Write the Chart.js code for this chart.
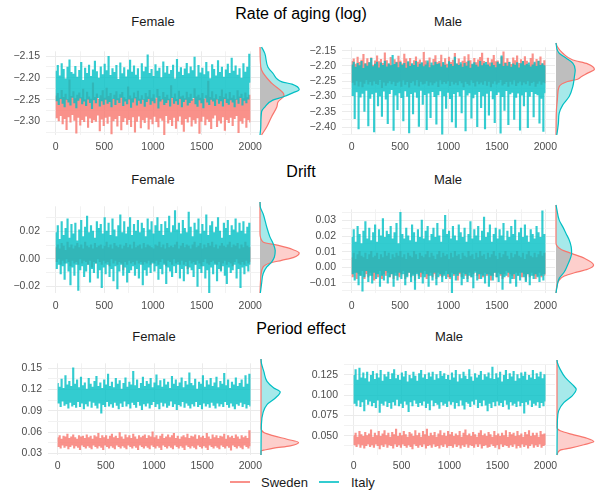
<!DOCTYPE html>
<html>
<head>
<meta charset="utf-8">
<script src="https://cdn.jsdelivr.net/npm/chart.js@4.4.0/dist/chart.umd.min.js"></script>
<style>
  body { margin: 0; background: #fff; }
  #wrap { position: relative; width: 597px; height: 491px; overflow: hidden; font-family: "Liberation Sans", Arial, sans-serif; }
  #wrap canvas { position: absolute; }
  .title { position: absolute; transform: translate(-50%, -50%); font-size: 16px; line-height: 16px; color: #000; white-space: nowrap; }
  .strip { position: absolute; transform: translate(-50%, -50%); font-size: 13px; line-height: 13px; color: #1A1A1A; white-space: nowrap; }
  .key { position: absolute; width: 20px; height: 1.5px; }
  .leg { position: absolute; transform: translateY(-50%); font-size: 13px; line-height: 13px; color: #1A1A1A; white-space: nowrap; }
</style>
</head>
<body>
<div id="wrap">
  <div class="title" style="left:301px;top:14px">Rate of aging (log)</div>
  <div class="title" style="left:301px;top:172px">Drift</div>
  <div class="title" style="left:301px;top:329px">Period effect</div>
  <div class="strip" style="left:153px;top:21px">Female</div>
  <div class="strip" style="left:448px;top:21px">Male</div>
  <div class="strip" style="left:153px;top:179px">Female</div>
  <div class="strip" style="left:448px;top:179px">Male</div>
  <div class="strip" style="left:154px;top:336px">Female</div>
  <div class="strip" style="left:449px;top:336px">Male</div>
  <div class="key" style="left:230px;top:481px;background:rgba(248,118,109,0.8)"></div>
  <div class="leg" style="left:261px;top:482px">Sweden</div>
  <div class="key" style="left:319px;top:481px;background:rgba(0,191,196,0.8)"></div>
  <div class="leg" style="left:351px;top:482px">Italy</div>
</div>
<script>
// x axis of every trace panel
const xTicks = [0, 500, 1000, 1500, 2000];
const xMinorTicks = [250, 750, 1250, 1750];

// y ticks per panel
const agingFemaleTicks = [-2.30, -2.25, -2.20, -2.15];
const agingFemaleMinor = [-2.325, -2.275, -2.225, -2.175];
const agingMaleTicks = [-2.40, -2.35, -2.30, -2.25, -2.20, -2.15];
const agingMaleMinor = [-2.425, -2.375, -2.325, -2.275, -2.225, -2.175];
const driftFemaleTicks = [-0.02, 0, 0.02];
const driftFemaleMinor = [-0.01, 0.01, 0.03];
const driftMaleTicks = [-0.01, 0, 0.01, 0.02, 0.03];
const driftMaleMinor = [-0.015, -0.005, 0.005, 0.015, 0.025, 0.035];
const periodFemaleTicks = [0.03, 0.06, 0.09, 0.12, 0.15];
const periodFemaleMinor = [0.045, 0.075, 0.105, 0.135];
const periodMaleTicks = [0.05, 0.075, 0.1, 0.125];
const periodMaleMinor = [0.0375, 0.0625, 0.0875, 0.1125, 0.1375];

// traces (thinned draws)
const agingFemaleItaly = [
  -2.185,-2.252,-2.172,-2.261,-2.196,-2.247,-2.168,-2.258,-2.181,-2.266,
  -2.203,-2.249,-2.176,-2.255,-2.159,-2.262,-2.188,-2.244,-2.192,-2.257,
  -2.174,-2.268,-2.199,-2.251,-2.183,-2.246,-2.165,-2.259,-2.206,-2.253,
  -2.178,-2.263,-2.19,-2.248,-2.171,-2.256,-2.197,-2.27,-2.182,-2.25,
  -2.162,-2.257,-2.186,-2.245,-2.201,-2.264,-2.175,-2.252,-2.193,-2.26,
  -2.169,-2.249,-2.184,-2.258,-2.151,-2.254,-2.195,-2.266,-2.179,-2.247,
  -2.188,-2.261,-2.172,-2.25,-2.204,-2.256,-2.166,-2.244,-2.191,-2.263,
  -2.177,-2.253,-2.198,-2.259,-2.182,-2.248,-2.16,-2.267,-2.187,-2.255,
  -2.173,-2.246,-2.194,-2.262,-2.179,-2.251,-2.205,-2.258,-2.168,-2.249,
  -2.186,-2.265,-2.176,-2.254,-2.148,-2.247,-2.19,-2.26,-2.181,-2.252,
  -2.197,-2.257,-2.17,-2.244,-2.185,-2.269,-2.178,-2.253,-2.2,-2.248,
  -2.164,-2.261,-2.189,-2.256,-2.174,-2.25,-2.192,-2.264,-2.183,-2.245,
  -2.171,-2.258,-2.203,-2.252,-2.158,-2.26,-2.187,-2.247,-2.177,-2.266,
  -2.195,-2.254,-2.18,-2.249,-2.167,-2.262,-2.191,-2.256,-2.175,-2.251,
  -2.184,-2.245,-2.153,-2.259,-2.198,-2.265,-2.172,-2.25,-2.189,-2.257,
  -2.178,-2.268,-2.193,-2.246,-2.165,-2.255,-2.186,-2.261,-2.202,-2.249,
  -2.17,-2.253,-2.181,-2.263,-2.196,-2.248,-2.161,-2.258,-2.188,-2.252,
  -2.176,-2.264,-2.199,-2.247,-2.182,-2.256,-2.169,-2.26,-2.19,-2.25,
  -2.155,-2.255,-2.185,-2.266,-2.173,-2.249,-2.194,-2.258,-2.179,-2.245,
  -2.201,-2.262,-2.168,-2.251,-2.187,-2.257,-2.176,-2.248,-2.146,-2.21
];
const agingFemaleSweden = [
  -2.242,-2.291,-2.236,-2.298,-2.247,-2.286,-2.229,-2.305,-2.245,-2.293,
  -2.238,-2.318,-2.25,-2.289,-2.205,-2.301,-2.243,-2.284,-2.232,-2.297,
  -2.248,-2.326,-2.24,-2.29,-2.235,-2.308,-2.246,-2.295,-2.226,-2.3,
  -2.251,-2.287,-2.233,-2.313,-2.244,-2.292,-2.249,-2.302,-2.212,-2.296,
  -2.245,-2.299,-2.237,-2.285,-2.25,-2.321,-2.241,-2.294,-2.23,-2.309,
  -2.247,-2.29,-2.224,-2.304,-2.243,-2.288,-2.236,-2.328,-2.249,-2.298,
  -2.24,-2.293,-2.232,-2.31,-2.248,-2.286,-2.239,-2.319,-2.234,-2.3,
  -2.246,-2.291,-2.25,-2.306,-2.221,-2.295,-2.242,-2.311,-2.248,-2.289,
  -2.235,-2.324,-2.245,-2.299,-2.231,-2.287,-2.249,-2.314,-2.241,-2.296,
  -2.25,-2.302,-2.236,-2.29,-2.244,-2.317,-2.229,-2.294,-2.247,-2.305,
  -2.239,-2.288,-2.248,-2.3,-2.227,-2.312,-2.243,-2.292,-2.25,-2.297,
  -2.234,-2.33,-2.245,-2.286,-2.24,-2.303,-2.249,-2.295,-2.218,-2.309,
  -2.246,-2.29,-2.237,-2.315,-2.25,-2.298,-2.231,-2.287,-2.244,-2.306,
  -2.242,-2.322,-2.248,-2.293,-2.233,-2.301,-2.246,-2.289,-2.238,-2.31,
  -2.25,-2.296,-2.225,-2.304,-2.244,-2.291,-2.24,-2.327,-2.247,-2.299,
  -2.236,-2.288,-2.249,-2.307,-2.241,-2.294,-2.208,-2.3,-2.245,-2.316,
  -2.232,-2.292,-2.248,-2.285,-2.239,-2.311,-2.25,-2.297,-2.243,-2.303,
  -2.228,-2.289,-2.246,-2.32,-2.237,-2.295,-2.249,-2.302,-2.234,-2.29,
  -2.247,-2.309,-2.241,-2.293,-2.25,-2.286,-2.23,-2.325,-2.244,-2.298,
  -2.238,-2.304,-2.248,-2.291,-2.235,-2.313,-2.246,-2.296,-2.24,-2.301
];
const agingMaleItaly = [
  -2.197,-2.296,-2.188,-2.372,-2.205,-2.284,-2.192,-2.405,-2.2,-2.301,
  -2.186,-2.289,-2.209,-2.348,-2.194,-2.279,-2.201,-2.395,-2.19,-2.305,
  -2.176,-2.291,-2.203,-2.415,-2.195,-2.286,-2.188,-2.33,-2.207,-2.298,
  -2.191,-2.364,-2.199,-2.282,-2.185,-2.308,-2.204,-2.388,-2.193,-2.29,
  -2.2,-2.277,-2.166,-2.41,-2.196,-2.295,-2.19,-2.342,-2.206,-2.287,
  -2.189,-2.303,-2.198,-2.379,-2.192,-2.281,-2.208,-2.299,-2.187,-2.418,
  -2.202,-2.29,-2.193,-2.356,-2.199,-2.285,-2.186,-2.302,-2.205,-2.397,
  -2.195,-2.279,-2.19,-2.325,-2.203,-2.293,-2.197,-2.408,-2.184,-2.288,
  -2.206,-2.368,-2.191,-2.283,-2.2,-2.3,-2.188,-2.39,-2.196,-2.294,
  -2.193,-2.281,-2.204,-2.422,-2.189,-2.297,-2.198,-2.338,-2.207,-2.286,
  -2.187,-2.306,-2.196,-2.382,-2.202,-2.29,-2.172,-2.4,-2.194,-2.284,
  -2.199,-2.298,-2.19,-2.353,-2.205,-2.278,-2.192,-2.412,-2.201,-2.295,
  -2.185,-2.287,-2.208,-2.37,-2.195,-2.304,-2.19,-2.292,-2.198,-2.398,
  -2.204,-2.283,-2.186,-2.336,-2.2,-2.297,-2.193,-2.405,-2.189,-2.289,
  -2.197,-2.36,-2.203,-2.281,-2.191,-2.307,-2.199,-2.385,-2.206,-2.293,
  -2.188,-2.285,-2.195,-2.419,-2.168,-2.3,-2.202,-2.345,-2.192,-2.28,
  -2.201,-2.391,-2.189,-2.291,-2.205,-2.286,-2.194,-2.374,-2.198,-2.302,
  -2.19,-2.288,-2.207,-2.409,-2.193,-2.295,-2.186,-2.33,-2.2,-2.284,
  -2.196,-2.401,-2.191,-2.299,-2.204,-2.283,-2.197,-2.366,-2.188,-2.29,
  -2.202,-2.294,-2.185,-2.386,-2.199,-2.305,-2.193,-2.413,-2.2,-2.287
];
const agingMaleSweden = [
  -2.186,-2.253,-2.178,-2.261,-2.195,-2.247,-2.172,-2.265,-2.189,-2.25,
  -2.182,-2.268,-2.163,-2.256,-2.193,-2.245,-2.177,-2.259,-2.19,-2.251,
  -2.174,-2.262,-2.198,-2.248,-2.184,-2.257,-2.168,-2.26,-2.187,-2.244,
  -2.179,-2.27,-2.192,-2.252,-2.158,-2.263,-2.183,-2.255,-2.196,-2.247,
  -2.173,-2.258,-2.199,-2.25,-2.18,-2.264,-2.188,-2.253,-2.169,-2.249,
  -2.185,-2.266,-2.194,-2.246,-2.162,-2.26,-2.178,-2.251,-2.19,-2.269,
  -2.176,-2.254,-2.197,-2.248,-2.183,-2.262,-2.171,-2.245,-2.188,-2.265,
  -2.181,-2.25,-2.192,-2.259,-2.156,-2.256,-2.184,-2.247,-2.191,-2.263,
  -2.174,-2.252,-2.2,-2.261,-2.179,-2.255,-2.167,-2.249,-2.19,-2.267,
  -2.186,-2.246,-2.165,-2.258,-2.193,-2.251,-2.177,-2.256,-2.195,-2.248,
  -2.172,-2.264,-2.189,-2.25,-2.182,-2.259,-2.16,-2.253,-2.194,-2.261,
  -2.178,-2.247,-2.196,-2.255,-2.185,-2.268,-2.17,-2.25,-2.188,-2.257,
  -2.164,-2.262,-2.183,-2.246,-2.197,-2.254,-2.176,-2.265,-2.19,-2.249,
  -2.181,-2.258,-2.173,-2.252,-2.159,-2.26,-2.186,-2.247,-2.198,-2.263,
  -2.175,-2.25,-2.191,-2.268,-2.18,-2.256,-2.166,-2.248,-2.187,-2.259,
  -2.184,-2.253,-2.195,-2.245,-2.172,-2.262,-2.155,-2.257,-2.19,-2.251,
  -2.177,-2.266,-2.188,-2.25,-2.196,-2.259,-2.174,-2.246,-2.183,-2.264,
  -2.168,-2.255,-2.192,-2.249,-2.18,-2.261,-2.187,-2.252,-2.17,-2.258,
  -2.185,-2.247,-2.199,-2.263,-2.176,-2.254,-2.161,-2.25,-2.193,-2.266,
  -2.179,-2.256,-2.186,-2.248,-2.171,-2.26,-2.194,-2.252,-2.183,-2.255
];
const driftFemaleItaly = [
  0.019,-0.007,0.024,-0.004,0.014,-0.011,0.027,-0.005,0.017,-0.015,
  0.022,-0.003,0.029,-0.009,0.015,-0.019,0.025,-0.006,0.018,-0.012,
  0.026,-0.004,0.013,-0.023,0.021,-0.008,0.028,-0.005,0.016,-0.013,
  0.023,-0.009,0.031,-0.004,0.019,-0.017,0.024,-0.007,0.02,-0.01,
  0.015,-0.003,0.027,-0.014,0.022,-0.008,0.025,-0.021,0.018,-0.006,
  0.03,-0.011,0.02,-0.004,0.026,-0.013,0.017,-0.007,0.029,-0.016,
  0.021,-0.005,0.016,-0.022,0.024,-0.009,0.032,-0.004,0.019,-0.012,
  0.027,-0.006,0.018,-0.017,0.023,-0.01,0.03,-0.008,0.017,-0.005,
  0.025,-0.012,0.02,-0.007,0.028,-0.014,0.019,-0.004,0.026,-0.019,
  0.022,-0.008,0.016,-0.012,0.029,-0.006,0.021,-0.01,0.027,-0.003,
  0.018,-0.009,0.024,-0.005,0.03,-0.015,0.02,-0.007,0.025,-0.011,
  0.017,-0.004,0.027,-0.018,0.022,-0.006,0.031,-0.009,0.019,-0.013,
  0.024,-0.005,0.035,-0.01,0.021,-0.004,0.026,-0.014,0.018,-0.007,
  0.028,-0.016,0.022,-0.005,0.019,-0.011,0.034,-0.006,0.023,-0.008,
  0.016,-0.013,0.026,-0.004,0.021,-0.02,0.029,-0.007,0.018,-0.01,
  0.025,-0.005,0.02,-0.014,0.032,-0.008,0.017,-0.025,0.024,-0.006,
  0.027,-0.011,0.019,-0.004,0.023,-0.016,0.03,-0.007,0.02,-0.009,
  0.015,-0.005,0.026,-0.012,0.022,-0.018,0.028,-0.006,0.017,-0.01,
  0.024,-0.008,0.021,-0.004,0.029,-0.014,0.019,-0.007,0.026,-0.021,
  0.02,-0.006,0.027,-0.011,0.018,-0.005,0.023,-0.009,0.026,-0.004
];
const driftFemaleSweden = [
  0.008,-0.002,0.01,0.0,0.007,-0.004,0.011,-0.001,0.009,-0.003,
  0.006,0.0,0.012,-0.002,0.008,-0.005,0.01,-0.001,0.007,-0.003,
  0.009,-0.002,0.011,-0.004,0.008,0.0,0.01,-0.003,0.007,-0.001,
  0.012,-0.002,0.009,-0.004,0.008,-0.001,0.01,-0.006,0.007,-0.002,
  0.011,-0.003,0.008,0.0,0.009,-0.002,0.01,-0.004,0.007,-0.001,
  0.009,-0.003,0.012,-0.002,0.008,-0.005,0.01,0.0,0.007,-0.003,
  0.011,-0.001,0.009,-0.004,0.008,-0.002,0.01,-0.003,0.007,-0.008,
  0.009,-0.002,0.011,-0.004,0.008,-0.001,0.01,-0.003,0.007,-0.002,
  0.012,-0.004,0.008,-0.001,0.009,-0.003,0.01,-0.002,0.007,-0.004,
  0.011,-0.002,0.008,-0.003,0.01,-0.001,0.009,-0.004,0.008,-0.002,
  0.007,-0.003,0.01,-0.001,0.009,-0.004,0.012,-0.002,0.008,0.0,
  0.01,-0.003,0.007,-0.005,0.011,-0.001,0.008,-0.002,0.009,-0.004,
  0.008,0.0,0.01,-0.003,0.012,-0.002,0.007,-0.004,0.009,-0.001,
  0.011,-0.004,0.008,-0.002,0.01,-0.007,0.009,-0.001,0.007,-0.003,
  0.01,-0.002,0.012,-0.004,0.008,-0.001,0.009,-0.003,0.011,-0.005,
  0.007,-0.002,0.01,0.0,0.008,-0.003,0.011,-0.004,0.009,-0.002,
  0.012,-0.001,0.008,-0.003,0.01,-0.004,0.007,-0.002,0.009,-0.008,
  0.011,-0.003,0.009,-0.001,0.008,-0.004,0.01,-0.002,0.012,-0.003,
  0.008,-0.005,0.01,-0.002,0.009,0.0,0.011,-0.003,0.007,-0.004,
  0.01,-0.002,0.008,-0.004,0.012,-0.001,0.009,-0.003,0.008,-0.002
];
const driftMaleItaly = [
  0.019,-0.004,0.024,-0.008,0.016,-0.003,0.026,-0.011,0.021,-0.005,
  0.015,-0.015,0.023,-0.006,0.029,-0.002,0.018,-0.009,0.025,-0.005,
  0.017,-0.01,0.022,-0.003,0.027,-0.007,0.016,-0.004,0.024,-0.012,
  0.02,-0.005,0.031,-0.008,0.019,-0.002,0.023,-0.01,0.021,-0.006,
  0.026,-0.004,0.018,-0.012,0.022,-0.005,0.028,-0.008,0.015,-0.003,
  0.035,-0.007,0.021,-0.004,0.018,-0.011,0.025,-0.006,0.02,-0.003,
  0.017,-0.009,0.027,-0.005,0.022,-0.014,0.016,-0.004,0.024,-0.007,
  0.019,-0.003,0.03,-0.01,0.018,-0.006,0.023,-0.004,0.026,-0.012,
  0.017,-0.005,0.021,-0.008,0.025,-0.003,0.019,-0.011,0.028,-0.006,
  0.02,-0.004,0.016,-0.009,0.024,-0.005,0.033,-0.007,0.021,-0.004,
  0.023,-0.006,0.018,-0.016,0.026,-0.004,0.02,-0.008,0.017,-0.005,
  0.027,-0.003,0.022,-0.011,0.019,-0.007,0.025,-0.004,0.016,-0.009,
  0.021,-0.005,0.029,-0.006,0.018,-0.013,0.024,-0.003,0.02,-0.008,
  0.026,-0.004,0.017,-0.007,0.023,-0.005,0.032,-0.01,0.019,-0.004,
  0.022,-0.012,0.027,-0.005,0.016,-0.008,0.021,-0.003,0.025,-0.006,
  0.018,-0.009,0.024,-0.004,0.02,-0.014,0.028,-0.006,0.017,-0.005,
  0.023,-0.003,0.019,-0.01,0.026,-0.007,0.021,-0.004,0.03,-0.012,
  0.017,-0.005,0.022,-0.008,0.025,-0.003,0.019,-0.006,0.027,-0.009,
  0.02,-0.004,0.016,-0.011,0.024,-0.005,0.021,-0.007,0.018,-0.004,
  0.026,-0.006,0.022,-0.009,0.019,-0.005,0.036,-0.008,0.021,-0.004
];
const driftMaleSweden = [
  0.006,-0.006,0.009,-0.003,0.005,-0.007,0.008,-0.004,0.01,-0.005,
  0.007,-0.002,0.006,-0.007,0.009,-0.004,0.005,-0.006,0.008,-0.003,
  0.01,-0.005,0.006,-0.008,0.007,-0.004,0.009,-0.006,0.005,-0.002,
  0.008,-0.007,0.006,-0.004,0.01,-0.005,0.007,-0.003,0.009,-0.006,
  0.005,-0.004,0.008,-0.007,0.006,-0.003,0.009,-0.005,0.007,-0.006,
  0.01,-0.004,0.006,-0.002,0.008,-0.007,0.005,-0.005,0.009,-0.003,
  0.007,-0.006,0.006,-0.004,0.01,-0.008,0.008,-0.003,0.005,-0.005,
  0.009,-0.006,0.007,-0.004,0.006,-0.002,0.008,-0.007,0.01,-0.005,
  0.006,-0.003,0.009,-0.006,0.007,-0.004,0.005,-0.007,0.008,-0.003,
  0.01,-0.005,0.006,-0.006,0.009,-0.004,0.007,-0.002,0.008,-0.006,
  0.005,-0.007,0.009,-0.003,0.006,-0.005,0.01,-0.004,0.007,-0.008,
  0.008,-0.004,0.005,-0.006,0.009,-0.003,0.007,-0.005,0.006,-0.007,
  0.01,-0.003,0.007,-0.006,0.008,-0.004,0.005,-0.002,0.009,-0.005,
  0.006,-0.007,0.01,-0.004,0.007,-0.006,0.008,-0.003,0.005,-0.005,
  0.009,-0.004,0.006,-0.008,0.008,-0.005,0.01,-0.003,0.007,-0.006,
  0.005,-0.003,0.009,-0.005,0.006,-0.007,0.008,-0.004,0.01,-0.002,
  0.007,-0.006,0.005,-0.004,0.009,-0.005,0.006,-0.007,0.008,-0.003,
  0.01,-0.005,0.007,-0.003,0.006,-0.006,0.009,-0.004,0.005,-0.008,
  0.008,-0.004,0.01,-0.006,0.007,-0.003,0.006,-0.005,0.009,-0.007,
  0.006,-0.005,0.008,-0.003,0.01,-0.006,0.007,-0.004,0.009,-0.005
];
const periodFemaleItaly = [
  0.128,0.101,0.123,0.096,0.134,0.104,0.121,0.098,0.139,0.1,
  0.126,0.094,0.131,0.102,0.124,0.097,0.15,0.099,0.127,0.095,
  0.133,0.103,0.122,0.096,0.137,0.101,0.125,0.093,0.129,0.1,
  0.12,0.097,0.135,0.104,0.127,0.095,0.123,0.102,0.131,0.098,
  0.138,0.094,0.124,0.101,0.129,0.087,0.121,0.099,0.133,0.096,
  0.126,0.103,0.141,0.097,0.124,0.1,0.13,0.095,0.122,0.102,
  0.135,0.098,0.127,0.093,0.132,0.101,0.12,0.096,0.128,0.104,
  0.136,0.097,0.123,0.1,0.13,0.094,0.126,0.102,0.145,0.099,
  0.125,0.095,0.133,0.103,0.121,0.098,0.128,0.092,0.137,0.1,
  0.124,0.097,0.131,0.101,0.127,0.094,0.135,0.099,0.122,0.103,
  0.129,0.096,0.14,0.1,0.125,0.093,0.132,0.102,0.123,0.097,
  0.134,0.101,0.126,0.095,0.13,0.098,0.121,0.104,0.138,0.096,
  0.127,0.1,0.133,0.092,0.124,0.099,0.129,0.097,0.136,0.103,
  0.122,0.095,0.131,0.101,0.126,0.098,0.143,0.094,0.128,0.1,
  0.125,0.097,0.134,0.103,0.12,0.096,0.13,0.099,0.127,0.093,
  0.139,0.101,0.123,0.097,0.132,0.1,0.126,0.095,0.135,0.102,
  0.124,0.098,0.129,0.094,0.137,0.101,0.122,0.097,0.131,0.1,
  0.127,0.096,0.142,0.103,0.125,0.099,0.133,0.095,0.121,0.101,
  0.13,0.097,0.126,0.093,0.136,0.1,0.124,0.098,0.128,0.102,
  0.133,0.096,0.123,0.1,0.139,0.094,0.127,0.099,0.141,0.097
];
const periodFemaleSweden = [
  0.052,0.04,0.055,0.038,0.05,0.042,0.054,0.039,0.053,0.041,
  0.057,0.037,0.051,0.04,0.053,0.042,0.056,0.038,0.052,0.041,
  0.05,0.039,0.055,0.036,0.053,0.042,0.054,0.04,0.051,0.038,
  0.056,0.041,0.052,0.039,0.054,0.037,0.05,0.042,0.055,0.04,
  0.053,0.038,0.058,0.041,0.051,0.039,0.055,0.036,0.052,0.042,
  0.055,0.04,0.05,0.038,0.054,0.041,0.057,0.039,0.052,0.037,
  0.054,0.042,0.051,0.04,0.059,0.038,0.053,0.041,0.05,0.039,
  0.056,0.037,0.052,0.042,0.055,0.04,0.051,0.038,0.057,0.041,
  0.053,0.039,0.05,0.036,0.055,0.042,0.052,0.04,0.054,0.038,
  0.056,0.041,0.051,0.039,0.055,0.037,0.053,0.042,0.06,0.04,
  0.052,0.038,0.055,0.041,0.05,0.039,0.054,0.036,0.057,0.042,
  0.051,0.04,0.053,0.038,0.056,0.041,0.052,0.039,0.055,0.037,
  0.058,0.042,0.051,0.04,0.054,0.038,0.05,0.041,0.053,0.039,
  0.055,0.036,0.052,0.042,0.057,0.04,0.051,0.038,0.054,0.041,
  0.053,0.039,0.056,0.037,0.05,0.042,0.055,0.04,0.052,0.038,
  0.054,0.041,0.051,0.039,0.058,0.036,0.053,0.042,0.05,0.04,
  0.056,0.038,0.052,0.041,0.055,0.039,0.051,0.037,0.054,0.042,
  0.053,0.04,0.057,0.038,0.05,0.041,0.055,0.039,0.052,0.035,
  0.054,0.042,0.051,0.04,0.056,0.038,0.053,0.041,0.05,0.039,
  0.055,0.037,0.052,0.042,0.054,0.04,0.051,0.038,0.062,0.041
];
const periodMaleItaly = [
  0.124,0.09,0.131,0.087,0.118,0.094,0.133,0.086,0.121,0.092,
  0.127,0.081,0.12,0.095,0.128,0.089,0.116,0.093,0.124,0.087,
  0.129,0.091,0.119,0.085,0.126,0.094,0.121,0.079,0.13,0.09,
  0.117,0.088,0.125,0.093,0.122,0.086,0.128,0.091,0.119,0.084,
  0.126,0.092,0.131,0.088,0.12,0.095,0.124,0.087,0.118,0.09,
  0.127,0.085,0.122,0.093,0.129,0.089,0.116,0.08,0.124,0.092,
  0.12,0.087,0.128,0.094,0.123,0.09,0.117,0.086,0.126,0.091,
  0.13,0.088,0.121,0.093,0.125,0.085,0.119,0.09,0.127,0.082,
  0.122,0.094,0.128,0.087,0.118,0.091,0.125,0.089,0.12,0.084,
  0.129,0.092,0.123,0.088,0.126,0.09,0.119,0.086,0.124,0.093,
  0.118,0.089,0.127,0.092,0.121,0.084,0.13,0.091,0.116,0.087,
  0.125,0.094,0.12,0.088,0.128,0.083,0.123,0.092,0.119,0.09,
  0.131,0.086,0.122,0.093,0.117,0.089,0.126,0.095,0.121,0.085,
  0.124,0.091,0.129,0.087,0.118,0.094,0.125,0.088,0.122,0.081,
  0.127,0.09,0.12,0.085,0.134,0.092,0.119,0.087,0.126,0.093,
  0.121,0.088,0.128,0.091,0.116,0.086,0.124,0.094,0.13,0.089,
  0.119,0.083,0.126,0.092,0.122,0.088,0.129,0.09,0.117,0.086,
  0.125,0.093,0.12,0.087,0.127,0.091,0.123,0.078,0.128,0.092,
  0.118,0.089,0.124,0.094,0.121,0.086,0.13,0.09,0.119,0.088,
  0.126,0.092,0.122,0.085,0.128,0.091,0.12,0.087,0.125,0.093
];
const periodMaleSweden = [
  0.05,0.039,0.053,0.037,0.048,0.04,0.055,0.036,0.051,0.039,
  0.049,0.035,0.054,0.038,0.05,0.04,0.052,0.037,0.057,0.039,
  0.048,0.036,0.053,0.04,0.05,0.038,0.055,0.034,0.049,0.039,
  0.052,0.037,0.056,0.04,0.05,0.036,0.053,0.039,0.048,0.038,
  0.054,0.035,0.051,0.04,0.058,0.037,0.049,0.039,0.053,0.036,
  0.05,0.04,0.055,0.038,0.051,0.036,0.048,0.039,0.054,0.037,
  0.052,0.034,0.049,0.04,0.056,0.038,0.05,0.036,0.053,0.039,
  0.048,0.037,0.055,0.04,0.051,0.035,0.058,0.038,0.049,0.039,
  0.053,0.036,0.05,0.04,0.054,0.037,0.048,0.038,0.052,0.035,
  0.056,0.039,0.05,0.037,0.053,0.04,0.049,0.036,0.055,0.038,
  0.051,0.038,0.054,0.036,0.049,0.04,0.052,0.037,0.05,0.039,
  0.055,0.035,0.048,0.039,0.053,0.037,0.057,0.04,0.05,0.036,
  0.052,0.039,0.049,0.038,0.054,0.036,0.051,0.04,0.048,0.037,
  0.053,0.04,0.056,0.035,0.05,0.038,0.052,0.039,0.049,0.036,
  0.054,0.037,0.051,0.04,0.048,0.038,0.055,0.036,0.05,0.039,
  0.052,0.034,0.049,0.04,0.053,0.037,0.05,0.039,0.056,0.038,
  0.048,0.036,0.054,0.039,0.051,0.037,0.053,0.04,0.049,0.035,
  0.055,0.038,0.05,0.036,0.052,0.04,0.048,0.037,0.054,0.039,
  0.051,0.035,0.056,0.038,0.049,0.04,0.053,0.036,0.05,0.039,
  0.053,0.037,0.048,0.04,0.055,0.036,0.051,0.038,0.052,0.039
];

// marginal densities: [value, relative density]
const agingFemaleItalyDens = [[-2.139,0.04],[-2.153,0.12],[-2.183,0.2],[-2.196,0.32],[-2.215,0.55],[-2.22,0.8],[-2.232,0.98],[-2.239,0.82],[-2.248,0.57],[-2.255,0.32],[-2.27,0.12],[-2.28,0.04],[-2.313,0.02],[-2.331,0]];
const agingFemaleSwedenDens = [[-2.139,0],[-2.183,0.02],[-2.196,0.08],[-2.218,0.29],[-2.244,0.6],[-2.259,0.45],[-2.27,0.42],[-2.291,0.29],[-2.313,0.17],[-2.331,0.04]];
const agingMaleItalyDens = [[-2.139,0],[-2.16,0.03],[-2.171,0.08],[-2.186,0.25],[-2.202,0.42],[-2.223,0.48],[-2.244,0.46],[-2.275,0.42],[-2.306,0.33],[-2.332,0.17],[-2.358,0.08],[-2.389,0.06],[-2.426,0.02]];
const agingMaleSwedenDens = [[-2.139,0],[-2.15,0.03],[-2.171,0.17],[-2.192,0.42],[-2.204,0.79],[-2.221,0.96],[-2.233,0.79],[-2.244,0.63],[-2.252,0.54],[-2.259,0.29],[-2.275,0.08],[-2.306,0.04],[-2.35,0.01],[-2.426,0]];
const driftFemaleItalyDens = [[0.0384,0],[0.0347,0.01],[0.03,0.08],[0.0208,0.17],[0.0139,0.25],[0.0093,0.33],[0.0046,0.38],[0,0.36],[-0.0035,0.29],[-0.0069,0.17],[-0.0115,0.08],[-0.0184,0.04],[-0.0251,0.01]];
const driftFemaleSwedenDens = [[0.0384,0],[0.0162,0],[0.0104,0.08],[0.0081,0.46],[0.0051,0.83],[0.0028,0.98],[-0.0004,0.83],[-0.0023,0.54],[-0.0042,0.25],[-0.0069,0.08],[-0.0139,0.02],[-0.0251,0]];
const driftMaleItalyDens = [[0.0371,0],[0.036,0.01],[0.0279,0.08],[0.0238,0.17],[0.0198,0.25],[0.0158,0.33],[0.0117,0.38],[0.0077,0.39],[0.0047,0.36],[0.0006,0.29],[-0.0035,0.21],[-0.0075,0.08],[-0.0135,0.02],[-0.0164,0]];
const driftMaleSwedenDens = [[0.0371,0],[0.0138,0],[0.0101,0.13],[0.0077,0.38],[0.0047,0.71],[0.0006,0.94],[-0.002,0.79],[-0.0041,0.46],[-0.0061,0.21],[-0.0085,0.08],[-0.0125,0.02],[-0.0164,0]];
const periodFemaleItalyDens = [[0.1566,0],[0.151,0.01],[0.14,0.07],[0.1266,0.15],[0.1177,0.32],[0.1124,0.48],[0.1044,0.36],[0.0956,0.15],[0.0845,0.05],[0.069,0.01],[0.028,0]];
const periodFemaleSwedenDens = [[0.1566,0],[0.0646,0],[0.058,0.07],[0.0536,0.32],[0.0491,0.65],[0.0447,0.94],[0.0403,0.73],[0.0371,0.32],[0.0345,0.07],[0.0337,0],[0.028,0]];
const periodMaleItalyDens = [[0.1379,0],[0.1347,0.01],[0.1269,0.08],[0.1171,0.21],[0.1093,0.38],[0.1034,0.48],[0.0957,0.38],[0.0878,0.17],[0.0781,0.04],[0.0664,0.01],[0.0263,0]];
const periodMaleSwedenDens = [[0.1379,0],[0.0585,0],[0.0547,0.08],[0.05,0.42],[0.046,0.75],[0.0421,0.92],[0.0383,0.67],[0.0343,0.33],[0.032,0.08],[0.0263,0]];

const SWEDEN = "#F8766D", ITALY = "#00BFC4";
Chart.defaults.font.family = '"Liberation Sans", Arial, sans-serif';
const wrap = document.getElementById("wrap");

function tickObjs(major, minor) {
    return major.map(v => ({ value: v }))
        .concat(minor.map(v => ({ value: v, minor: true })))
        .sort((a, b) => a.value - b.value);
}

const gridColor = (c) => (c.tick && c.tick.minor ? "#F2F2F2" : "#EBEBEB");
const tickFont = { size: 10.5 };

function addCanvas(left, top, w, h) {
    const cv = document.createElement("canvas");
    cv.width = w;
    cv.height = h;
    cv.style.left = left + "px";
    cv.style.top = top + "px";
    wrap.appendChild(cv);
    return cv;
}

function traceChart(p, italy, sweden, ticks, minor, dec) {
    const [l, t, r, b] = p.area;
    const yW = 46, padTop = 8, xH = 22, padRight = 14;
    const cv = addCanvas(l - yW, t - padTop, yW + (r - l) + padRight, padTop + (b - t) + xH);
    const pts = (s) => s.map((v, i) => ({ x: 1 + (i * 1999) / (s.length - 1), y: v }));
    new Chart(cv, {
        type: "line",
        data: {
            datasets: [
                { label: "Italy", data: pts(italy), borderColor: "rgba(0,191,196,0.8)" },
                { label: "Sweden", data: pts(sweden), borderColor: "rgba(248,118,109,0.8)" },
            ],
        },
        options: {
            responsive: false,
            animation: false,
            devicePixelRatio: 1,
            layout: { padding: { top: padTop, right: padRight, left: 0, bottom: 0 } },
            elements: { point: { radius: 0 }, line: { borderWidth: 1.2, stepped: "middle" } },
            plugins: { legend: { display: false }, tooltip: { enabled: false } },
            scales: {
                x: {
                    type: "linear",
                    min: -100,
                    max: 2100,
                    border: { display: false },
                    grid: { color: gridColor, lineWidth: 1, drawTicks: false },
                    ticks: {
                        autoSkip: false,
                        maxRotation: 0,
                        padding: p.xPad,
                        font: tickFont,
                        color: "#4D4D4D",
                        callback: (v, i, tk) => (tk[i].minor ? "" : String(v)),
                    },
                    afterBuildTicks: (s) => { s.ticks = tickObjs(xTicks, xMinorTicks); },
                    afterFit: (s) => { s.height = xH; },
                },
                y: {
                    type: "linear",
                    min: p.y[0],
                    max: p.y[1],
                    border: { display: false },
                    grid: { color: gridColor, lineWidth: 1, drawTicks: false },
                    ticks: {
                        autoSkip: false,
                        padding: 6,
                        font: tickFont,
                        color: "#4D4D4D",
                        callback: (v, i, tk) => (tk[i].minor ? "" : v.toFixed(dec).replace("-", "\u2212")),
                    },
                    afterBuildTicks: (s) => { s.ticks = tickObjs(ticks, minor); },
                    afterFit: (s) => { s.width = yW; },
                },
            },
        },
    });
}

// grey where both densities overlap
const overlapPlugin = {
    id: "overlap",
    beforeDatasetsDraw(chart) {
        const ctx = chart.ctx;
        const x0 = chart.scales.x.getPixelForValue(0);
        const shape = (meta) => {
            const line = meta.dataset;
            const pts = line.points;
            ctx.beginPath();
            line.path(ctx);
            ctx.lineTo(x0, pts[pts.length - 1].y);
            ctx.lineTo(x0, pts[0].y);
            ctx.closePath();
        };
        ctx.save();
        shape(chart.getDatasetMeta(1));
        ctx.clip();
        shape(chart.getDatasetMeta(0));
        ctx.fillStyle = "#BEBEBE";
        ctx.fill();
        ctx.restore();
    },
};

function densityChart(p, italy, sweden) {
    const [, t, , b] = p.area;
    const w = 40, pad = 3;
    const cv = addCanvas(p.dens - pad, t - pad, w + 2 * pad, b - t + 2 * pad);
    const pts = (s) => s.map(([v, d]) => ({ x: d, y: v }));
    new Chart(cv, {
        type: "line",
        data: {
            datasets: [
                { label: "Italy", data: pts(italy), borderColor: ITALY, backgroundColor: "rgba(0,191,196,0.35)", fill: "origin" },
                { label: "Sweden", data: pts(sweden), borderColor: SWEDEN, backgroundColor: "rgba(248,118,109,0.35)", fill: "origin" },
            ],
        },
        options: {
            indexAxis: "y",
            responsive: false,
            animation: false,
            devicePixelRatio: 1,
            layout: { padding: pad },
            datasets: { line: { clip: false } },
            elements: { point: { radius: 0 }, line: { borderWidth: 1.2, cubicInterpolationMode: "monotone" } },
            plugins: { legend: { display: false }, tooltip: { enabled: false }, filler: { drawTime: "beforeDatasetsDraw" } },
            scales: {
                x: { type: "linear", min: 0, max: 1, display: false },
                y: { type: "linear", min: p.y[0], max: p.y[1], display: false },
            },
        },
        plugins: [overlapPlugin],
    });
}

// panel placement: plot area [left, top, right, bottom], y limits, density baseline
const panels = {
    agingFemale: { area: [46, 47, 260, 135], y: [-2.331, -2.139], dens: 260, xPad: 6 },
    agingMale: { area: [342, 43, 555, 135], y: [-2.426, -2.139], dens: 556, xPad: 6 },
    driftFemale: { area: [46, 202, 260, 293], y: [-0.0251, 0.0384], dens: 260, xPad: 7 },
    driftMale: { area: [342, 205, 555, 293], y: [-0.0164, 0.0371], dens: 556, xPad: 7 },
    periodFemale: { area: [48, 359, 260, 455], y: [0.028, 0.1566], dens: 261, xPad: 5 },
    periodMale: { area: [344, 360, 555, 455], y: [0.0263, 0.1379], dens: 557, xPad: 5 },
};

traceChart(panels.agingFemale, agingFemaleItaly, agingFemaleSweden, agingFemaleTicks, agingFemaleMinor, 2);
traceChart(panels.agingMale, agingMaleItaly, agingMaleSweden, agingMaleTicks, agingMaleMinor, 2);
traceChart(panels.driftFemale, driftFemaleItaly, driftFemaleSweden, driftFemaleTicks, driftFemaleMinor, 2);
traceChart(panels.driftMale, driftMaleItaly, driftMaleSweden, driftMaleTicks, driftMaleMinor, 2);
traceChart(panels.periodFemale, periodFemaleItaly, periodFemaleSweden, periodFemaleTicks, periodFemaleMinor, 2);
traceChart(panels.periodMale, periodMaleItaly, periodMaleSweden, periodMaleTicks, periodMaleMinor, 3);

densityChart(panels.agingFemale, agingFemaleItalyDens, agingFemaleSwedenDens);
densityChart(panels.agingMale, agingMaleItalyDens, agingMaleSwedenDens);
densityChart(panels.driftFemale, driftFemaleItalyDens, driftFemaleSwedenDens);
densityChart(panels.driftMale, driftMaleItalyDens, driftMaleSwedenDens);
densityChart(panels.periodFemale, periodFemaleItalyDens, periodFemaleSwedenDens);
densityChart(panels.periodMale, periodMaleItalyDens, periodMaleSwedenDens);
</script>
</body>
</html>
